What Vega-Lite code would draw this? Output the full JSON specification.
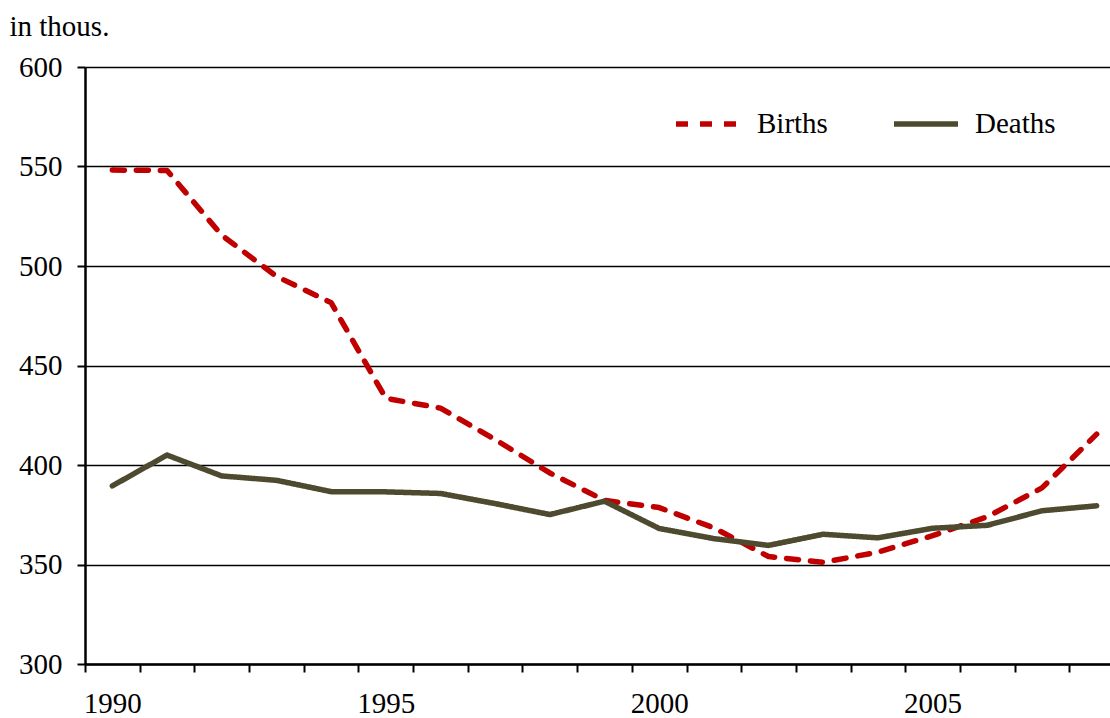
{
  "$schema": "https://vega.github.io/schema/vega-lite/v6.json",
  "width": 1025,
  "height": 597,
  "autosize": "none",
  "padding": {"left": 85, "top": 67, "right": 0, "bottom": 51},
  "background": "white",
  "config": {
    "view": {"stroke": null},
    "font": "Liberation Serif",
    "axis": {"labelFont": "Liberation Serif", "titleFont": "Liberation Serif"},
    "legend": {
      "orient": "none",
      "legendX": 588,
      "legendY": 22,
      "direction": "horizontal",
      "symbolType": "stroke",
      "symbolSize": 4096,
      "symbolStrokeWidth": 5.5,
      "labelFont": "Liberation Serif",
      "labelFontSize": 29,
      "labelColor": "black",
      "labelOffset": 14,
      "columnPadding": 55,
      "title": null
    }
  },
  "data": {
    "values": [
      {"year": 1990, "series": "Births", "value": 548.2},
      {"year": 1991, "series": "Births", "value": 548.0},
      {"year": 1992, "series": "Births", "value": 515.5},
      {"year": 1993, "series": "Births", "value": 494.8},
      {"year": 1994, "series": "Births", "value": 481.6},
      {"year": 1995, "series": "Births", "value": 433.5},
      {"year": 1996, "series": "Births", "value": 428.6},
      {"year": 1997, "series": "Births", "value": 412.8},
      {"year": 1998, "series": "Births", "value": 396.0},
      {"year": 1999, "series": "Births", "value": 382.2},
      {"year": 2000, "series": "Births", "value": 378.6},
      {"year": 2001, "series": "Births", "value": 368.4},
      {"year": 2002, "series": "Births", "value": 354.0},
      {"year": 2003, "series": "Births", "value": 351.1},
      {"year": 2004, "series": "Births", "value": 356.2},
      {"year": 2005, "series": "Births", "value": 364.5},
      {"year": 2006, "series": "Births", "value": 374.0},
      {"year": 2007, "series": "Births", "value": 388.5},
      {"year": 2008, "series": "Births", "value": 415.5},
      {"year": 1990, "series": "Deaths", "value": 389.5},
      {"year": 1991, "series": "Deaths", "value": 405.0},
      {"year": 1992, "series": "Deaths", "value": 394.5},
      {"year": 1993, "series": "Deaths", "value": 392.3},
      {"year": 1994, "series": "Deaths", "value": 386.6},
      {"year": 1995, "series": "Deaths", "value": 386.5},
      {"year": 1996, "series": "Deaths", "value": 385.7},
      {"year": 1997, "series": "Deaths", "value": 380.6},
      {"year": 1998, "series": "Deaths", "value": 375.1},
      {"year": 1999, "series": "Deaths", "value": 381.8},
      {"year": 2000, "series": "Deaths", "value": 368.1},
      {"year": 2001, "series": "Deaths", "value": 363.0},
      {"year": 2002, "series": "Deaths", "value": 359.6},
      {"year": 2003, "series": "Deaths", "value": 365.2},
      {"year": 2004, "series": "Deaths", "value": 363.4},
      {"year": 2005, "series": "Deaths", "value": 368.2},
      {"year": 2006, "series": "Deaths", "value": 369.7},
      {"year": 2007, "series": "Deaths", "value": 377.0},
      {"year": 2008, "series": "Deaths", "value": 379.5}
    ]
  },
  "mark": {"type": "line", "strokeWidth": 5.5, "strokeCap": "round", "strokeJoin": "round"},
  "encoding": {
    "x": {
      "field": "year",
      "type": "ordinal",
      "bandPosition": 0.5,
      "scale": {"type": "band", "paddingInner": 0, "paddingOuter": 0, "range": [0, 1039]},
      "axis": {
        "title": null,
        "grid": false,
        "domainColor": "black",
        "domainWidth": 2.5,
        "tickColor": "black",
        "tickWidth": 2,
        "tickSize": 8,
        "tickBand": "extent",
        "labelAngle": 0,
        "labelOverlap": false,
        "labelExpr": "datum.value % 5 == 0 ? datum.label : ''",
        "labelFont": "Liberation Serif",
        "labelFontSize": 29,
        "labelColor": "black",
        "labelPadding": 17
      }
    },
    "y": {
      "field": "value",
      "type": "quantitative",
      "scale": {"domain": [300, 600], "nice": false, "zero": false},
      "axis": {
        "values": [300, 350, 400, 450, 500, 550, 600],
        "grid": true,
        "gridColor": "black",
        "gridWidth": 1.4,
        "domainColor": "black",
        "domainWidth": 2.5,
        "tickColor": "black",
        "tickWidth": 2,
        "tickSize": 8,
        "labelFont": "Liberation Serif",
        "labelFontSize": 29,
        "labelColor": "black",
        "labelPadding": 15,
        "title": "in thous.",
        "titleAngle": 0,
        "titleX": -76,
        "titleY": -32,
        "titleAlign": "left",
        "titleBaseline": "alphabetic",
        "titleFont": "Liberation Serif",
        "titleFontSize": 29,
        "titleFontWeight": "normal",
        "titleColor": "black"
      }
    },
    "color": {
      "field": "series",
      "type": "nominal",
      "scale": {"domain": ["Births", "Deaths"], "range": ["#C00000", "#4D4A2F"]},
      "legend": {"title": null}
    },
    "strokeDash": {
      "field": "series",
      "type": "nominal",
      "scale": {"domain": ["Births", "Deaths"], "range": [[12, 12], [1, 0]]},
      "legend": {"title": null}
    }
  }
}
